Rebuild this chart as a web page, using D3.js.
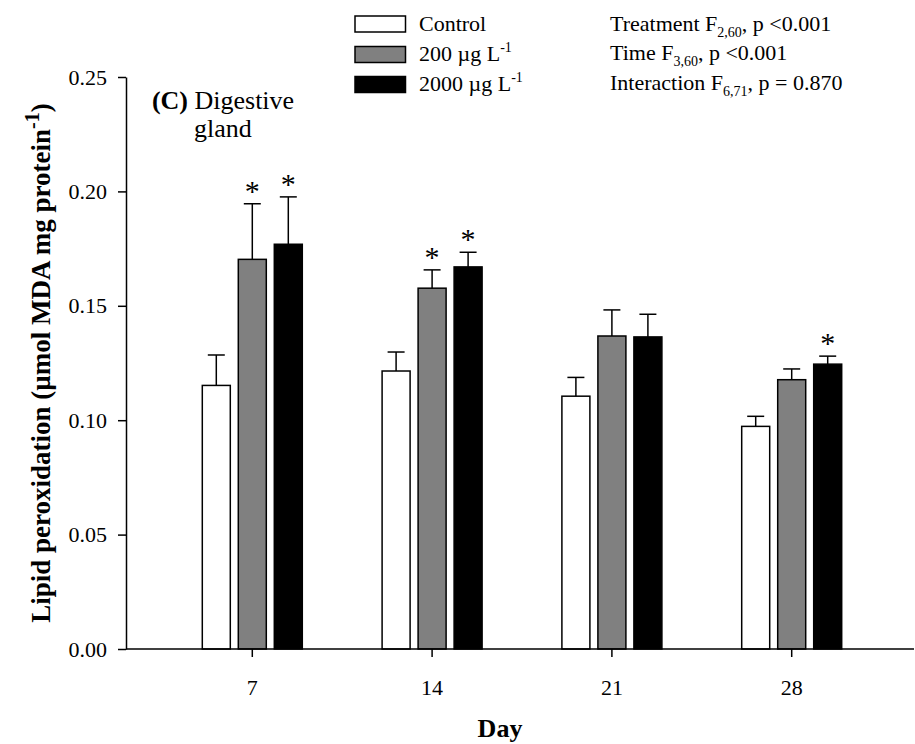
<!DOCTYPE html>
<html>
<head>
<meta charset="utf-8">
<script src="https://cdn.jsdelivr.net/npm/d3@7"></script>
<style>
  html, body { margin: 0; padding: 0; background: #fff; }
  svg { display: block; }
  text { font-family: "Liberation Serif", "Times New Roman", serif; fill: #000; }
</style>
</head>
<body>
<svg id="chart" width="915" height="744"></svg>
<script>
// ---------- data ----------
const days = ["7", "14", "21", "28"];
const seriesNames = ["Control", "200 µg L", "2000 µg L"];
const seriesSup = ["", "-1", "-1"];
const seriesColors = ["#ffffff", "#808080", "#000000"];
const controlMean = [0.1152, 0.1215, 0.1105, 0.0973];
const controlErr  = [0.0133, 0.0083, 0.0082, 0.0044];
const lowMean     = [0.1703, 0.1577, 0.1368, 0.1177];
const lowErr      = [0.0243, 0.0080, 0.0114, 0.0047];
const highMean    = [0.1769, 0.1670, 0.1364, 0.1245];
const highErr     = [0.0207, 0.0064, 0.0099, 0.0035];
const controlSig  = [false, false, false, false];
const lowSig      = [true, true, false, false];
const highSig     = [true, true, false, true];
const yTicks = [0.00, 0.05, 0.10, 0.15, 0.20, 0.25];
const statLines = [
  ["Treatment F", "2,60", ", p <0.001"],
  ["Time F", "3,60", ", p <0.001"],
  ["Interaction F", "6,71", ", p = 0.870"]
];

const means = [controlMean, lowMean, highMean];
const errs = [controlErr, lowErr, highErr];
const sigs = [controlSig, lowSig, highSig];

const rows = [];
days.forEach((d, i) => {
  seriesNames.forEach((s, j) => {
    rows.push({ day: d, s: j, mean: means[j][i], err: errs[j][i], sig: sigs[j][i] });
  });
});

// ---------- layout ----------
const svg = d3.select("#chart");
const axisLeftX = 126, axisRightX = 914;
const yBottom = 649, yTop = 77;

const y = d3.scaleLinear().domain([0, 0.25]).range([yBottom, yTop]);
const x0 = d3.scaleBand().domain(days).range([162.4, 881.6]).paddingInner(0).paddingOuter(0);
const x1 = d3.scaleBand().domain(d3.range(seriesNames.length)).range([-54, 54])
  .paddingInner(8 / 36).paddingOuter(4 / 36);

// ---------- bars ----------
const g = svg.append("g");
const bars = g.selectAll("g.bar").data(rows).join("g").attr("class", "bar");
bars.append("rect")
  .attr("x", d => x0(d.day) + x0.bandwidth() / 2 + x1(d.s))
  .attr("y", d => y(d.mean))
  .attr("width", x1.bandwidth())
  .attr("height", d => y(0) - y(d.mean))
  .attr("fill", d => seriesColors[d.s])
  .attr("stroke", "#000")
  .attr("stroke-width", 1.5);

const cx = d => x0(d.day) + x0.bandwidth() / 2 + x1(d.s) + x1.bandwidth() / 2;
bars.append("line")
  .attr("x1", cx).attr("x2", cx)
  .attr("y1", d => y(d.mean)).attr("y2", d => y(d.mean + d.err))
  .attr("stroke", "#000").attr("stroke-width", 1.5);
bars.append("line")
  .attr("x1", d => cx(d) - 8.5).attr("x2", d => cx(d) + 8.5)
  .attr("y1", d => y(d.mean + d.err)).attr("y2", d => y(d.mean + d.err))
  .attr("stroke", "#000").attr("stroke-width", 1.5);
bars.filter(d => d.sig).append("text")
  .attr("x", cx)
  .attr("y", d => y(d.mean + d.err) - 3)
  .attr("text-anchor", "middle")
  .attr("font-size", 30)
  .text("*");

// ---------- axes ----------
const yAxis = svg.append("g")
  .attr("transform", `translate(${axisLeftX},0)`)
  .call(d3.axisLeft(y).tickValues(yTicks).tickFormat(d3.format(".2f")).tickSize(8).tickSizeOuter(0).tickPadding(11));
yAxis.selectAll("text").attr("font-size", 22).attr("font-family", "Liberation Serif, Times New Roman, serif");
yAxis.selectAll("path, line").attr("stroke", "#000").attr("stroke-width", 1.5);

svg.append("line")
  .attr("x1", axisLeftX).attr("x2", axisRightX)
  .attr("y1", yBottom).attr("y2", yBottom)
  .attr("stroke", "#000").attr("stroke-width", 1.5);

const xAxis = svg.append("g")
  .attr("transform", `translate(0,${yBottom})`)
  .call(d3.axisBottom(x0).tickSize(8).tickSizeOuter(0).tickPadding(22));
xAxis.select(".domain").remove();
xAxis.selectAll("text").attr("font-size", 22).attr("font-family", "Liberation Serif, Times New Roman, serif");
xAxis.selectAll("line").attr("stroke", "#000").attr("stroke-width", 1.5);

// axis titles
svg.append("text")
  .attr("x", (axisLeftX + axisRightX) / 2 - 20)
  .attr("y", 737)
  .attr("text-anchor", "middle")
  .attr("font-size", 26)
  .attr("font-weight", "bold")
  .text("Day");

const yl = svg.append("text")
  .attr("transform", `translate(50,${(yTop + yBottom) / 2}) rotate(-90)`)
  .attr("text-anchor", "middle")
  .attr("font-size", 27)
  .attr("font-weight", "bold");
yl.append("tspan").text("Lipid peroxidation (µmol MDA mg protein");
yl.append("tspan").attr("dy", -11).attr("font-size", 20).text("-1");
yl.append("tspan").attr("dy", 11).text(")");

// panel label
const pl = svg.append("text").attr("x", 223).attr("y", 109).attr("text-anchor", "middle").attr("font-size", 26);
pl.append("tspan").attr("font-weight", "bold").text("(C)");
pl.append("tspan").text(" Digestive");
svg.append("text").attr("x", 223).attr("y", 137).attr("text-anchor", "middle").attr("font-size", 26).text("gland");

// ---------- legend ----------
const legY = [16, 46.5, 76.5];
const leg = svg.append("g");
seriesNames.forEach((s, j) => {
  leg.append("rect")
    .attr("x", 355).attr("y", legY[j])
    .attr("width", 50.5).attr("height", 16)
    .attr("fill", seriesColors[j]).attr("stroke", "#000").attr("stroke-width", 1.5);
  const t = leg.append("text").attr("x", 419).attr("y", legY[j] + 14.8).attr("font-size", 22);
  t.append("tspan").text(s);
  if (seriesSup[j]) t.append("tspan").attr("dy", -9).attr("font-size", 14).text(seriesSup[j]);
});

// ---------- stats text ----------
statLines.forEach((ln, i) => {
  const t = svg.append("text").attr("x", 610).attr("y", 30.5 + i * 29.5).attr("font-size", 22);
  t.append("tspan").text(ln[0]);
  t.append("tspan").attr("dy", 6).attr("font-size", 14).text(ln[1]);
  t.append("tspan").attr("dy", -6).text(ln[2]);
});
</script>
</body>
</html>
